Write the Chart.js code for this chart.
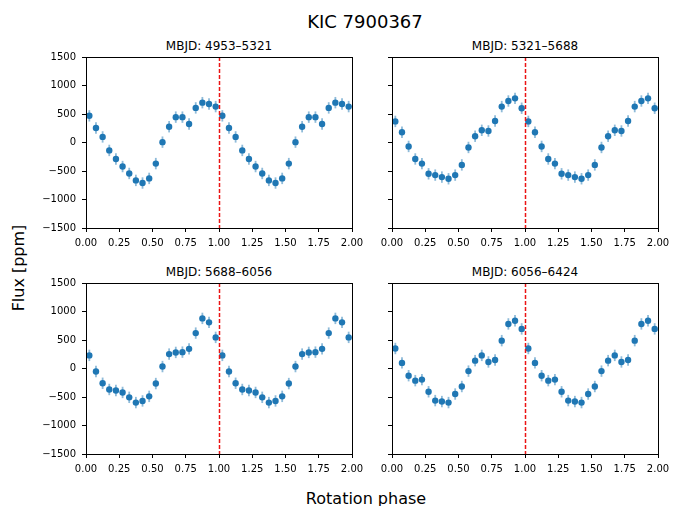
<!DOCTYPE html>
<html>
<head>
<meta charset="utf-8">
<script src="https://cdn.jsdelivr.net/npm/chart.js@4.4.0/dist/chart.umd.min.js"></script>
<style>
  html, body { margin: 0; padding: 0; background: #fff; }
  body { width: 673px; height: 506px; position: relative; overflow: hidden; font-family: 'DejaVu Sans', sans-serif; color: #000; }
  canvas { position: absolute; }
  .txt { position: absolute; white-space: nowrap; line-height: 1; }
</style>
</head>
<body>
<div class="txt" id="suptitle" style="font-size:18px; left:365px; top:13px; transform:translateX(-50%);">KIC 7900367</div>
<div class="txt" style="font-size:16px; left:366px; top:491px; transform:translateX(-50%);">Rotation phase</div>
<div class="txt" style="font-size:16px; left:19px; top:268px; transform:translate(-50%,-50%) rotate(-90deg);">Flux [ppm]</div>

<div class="txt" style="font-size:12px; left:219px; top:40px; transform:translateX(-50%);">MBJD: 4953–5321</div>
<div class="txt" style="font-size:12px; left:525px; top:40px; transform:translateX(-50%);">MBJD: 5321–5688</div>
<div class="txt" style="font-size:12px; left:219px; top:266px; transform:translateX(-50%);">MBJD: 5688–6056</div>
<div class="txt" style="font-size:12px; left:525px; top:266px; transform:translateX(-50%);">MBJD: 6056–6424</div>

<canvas id="c1" width="369" height="205" style="left:0px; top:45px; width:369px; height:205px;"></canvas>
<canvas id="c2" width="301" height="205" style="left:374px; top:45px; width:301px; height:205px;"></canvas>
<canvas id="c3" width="369" height="205" style="left:0px; top:271px; width:369px; height:205px;"></canvas>
<canvas id="c4" width="301" height="205" style="left:374px; top:271px; width:301px; height:205px;"></canvas>

<script>
// ---- data ----
const phases = [0.025, 0.075, 0.125, 0.175, 0.225, 0.275, 0.325, 0.375, 0.425, 0.475,
                0.525, 0.575, 0.625, 0.675, 0.725, 0.775, 0.825, 0.875, 0.925, 0.975];
const flux4953 = [468, 254, 98, -139, -289, -422, -543, -665, -711, -630,
                  -370, 6, 277, 445, 445, 324, 607, 699, 676, 630];
const flux5321 = [370, 179, -69, -289, -370, -549, -572, -607, -636, -572,
                  -393, -87, 110, 214, 202, 376, 630, 728, 775, 601];
const flux5688 = [230, -52, -259, -368, -385, -420, -506, -598, -569, -489,
                  -264, 34, 253, 282, 287, 345, 621, 879, 810, 546];
const flux6056 = [351, 98, -126, -213, -195, -408, -563, -580, -598, -448,
                  -316, -46, 138, 230, 115, 149, 489, 782, 839, 695];
const fluxErr = [100, 100, 100, 100, 100, 100, 100, 100, 100, 100,
                 100, 100, 100, 100, 100, 100, 100, 100, 100, 100];
const xTicks = [0, 0.25, 0.5, 0.75, 1, 1.25, 1.5, 1.75, 2];
const yTicks = [-1500, -1000, -500, 0, 500, 1000, 1500];
const refPhase = 1.0;

Chart.defaults.font.family = "'DejaVu Sans', sans-serif";
Chart.defaults.font.size = 10;
Chart.defaults.color = '#000';
Chart.defaults.animation = false;

function buildPoints(vals) {
  const pts = [];
  for (let cycle = 0; cycle < 2; cycle++) {
    for (let i = 0; i < phases.length; i++) {
      pts.push({ x: phases[i] + cycle, y: vals[i], e: fluxErr[i] });
    }
  }
  return pts;
}

const decor = {
  id: 'decor',
  beforeDatasetsDraw(chart) {
    const ctx = chart.ctx;
    const xs = chart.scales.x, ys = chart.scales.y;
    const data = chart.data.datasets[0].data;
    ctx.save();
    ctx.strokeStyle = 'rgba(31,119,180,0.5)';
    ctx.lineWidth = 1.8;
    for (const p of data) {
      const px = xs.getPixelForValue(p.x);
      ctx.beginPath();
      ctx.moveTo(px, ys.getPixelForValue(p.y - p.e));
      ctx.lineTo(px, ys.getPixelForValue(p.y + p.e));
      ctx.stroke();
    }
    ctx.restore();
  },
  afterDatasetsDraw(chart) {
    const ctx = chart.ctx;
    const a = chart.chartArea;
    const xs = chart.scales.x;
    ctx.save();
    const rx = Math.round(xs.getPixelForValue(refPhase)) + 0.5;
    ctx.strokeStyle = 'rgb(235,20,20)';
    ctx.lineWidth = 1.5;
    ctx.setLineDash([4, 2]);
    ctx.beginPath();
    ctx.moveTo(rx, a.top);
    ctx.lineTo(rx, a.bottom);
    ctx.stroke();
    ctx.setLineDash([]);
    ctx.strokeStyle = '#000';
    ctx.lineWidth = 1;
    ctx.strokeRect(Math.round(a.left) + 0.5, Math.round(a.top) + 0.5,
                   Math.round(a.right - a.left), Math.round(a.bottom - a.top));
    ctx.restore();
  }
};

function makeChart(id, vals, showYLabels) {
  const yWidth = showYLabels ? 86 : 18;
  return new Chart(document.getElementById(id), {
    type: 'scatter',
    data: {
      datasets: [{
        data: buildPoints(vals),
        pointRadius: 3.2,
        pointHoverRadius: 3.2,
        backgroundColor: '#1f77b4',
        borderWidth: 0
      }]
    },
    options: {
      responsive: false,
      maintainAspectRatio: false,
      layout: { padding: { top: 10, right: 17, bottom: 0, left: 0 } },
      plugins: { legend: { display: false }, tooltip: { enabled: false }, title: { display: false } },
      scales: {
        x: {
          type: 'linear', min: 0, max: 2,
          afterBuildTicks(scale) { scale.ticks = xTicks.map(v => ({ value: v })); },
          afterFit(scale) { scale.height = 22; },
          ticks: { callback: v => Number(v).toFixed(2), padding: 5, maxRotation: 0, autoSkip: false, font: { size: 10 }, color: '#000' },
          grid: { display: true, drawOnChartArea: false, drawTicks: true, tickLength: 4, color: '#000', lineWidth: 1 },
          border: { display: false }
        },
        y: {
          type: 'linear', min: -1500, max: 1500,
          afterBuildTicks(scale) { scale.ticks = yTicks.map(v => ({ value: v })); },
          afterFit(scale) { scale.width = yWidth; },
          ticks: {
            callback: v => showYLabels ? String(v).replace('-', '\u2212') : '',
            padding: 6, autoSkip: false, font: { size: 10 }, color: '#000'
          },
          grid: { display: true, drawOnChartArea: false, drawTicks: true, tickLength: 4, color: '#000', lineWidth: 1 },
          border: { display: false }
        }
      }
    },
    plugins: [decor]
  });
}

makeChart('c1', flux4953, true);
makeChart('c2', flux5321, false);
makeChart('c3', flux5688, true);
makeChart('c4', flux6056, false);
</script>
</body>
</html>
